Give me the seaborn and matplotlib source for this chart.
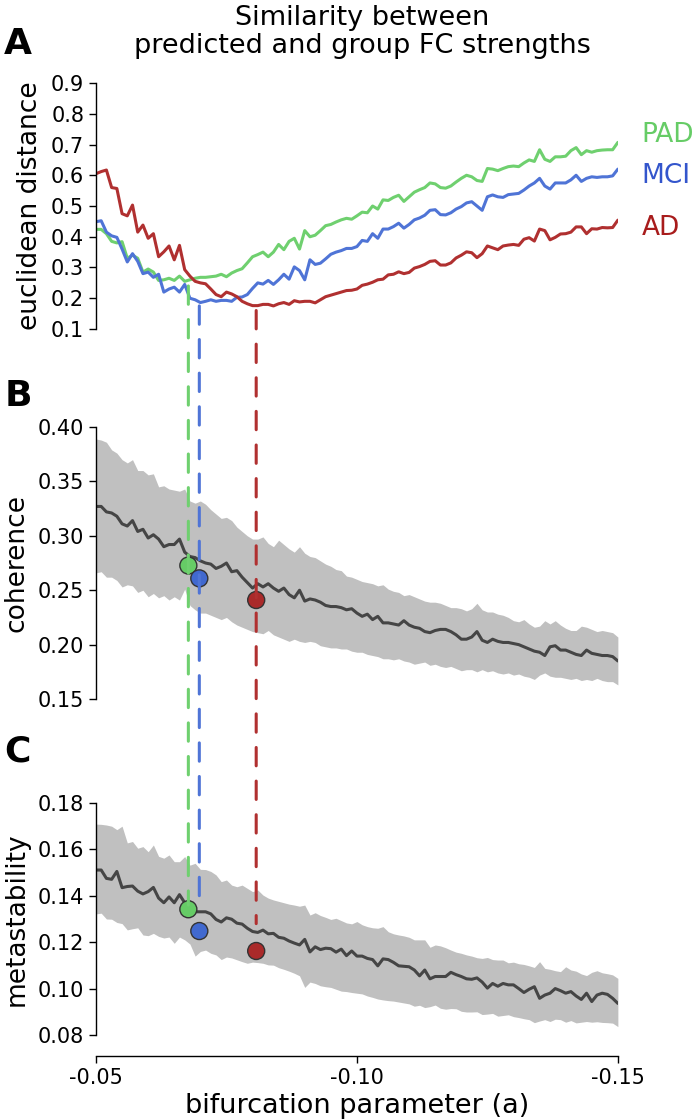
import matplotlib
matplotlib.use("Agg")
import matplotlib.pyplot as plt
from matplotlib.patches import ConnectionPatch
import seaborn as sns

# bifurcation parameter sweep (step 0.001)
a_vals = [-0.050, -0.051, -0.052, -0.053, -0.054, -0.055, -0.056, -0.057, -0.058, -0.059,
          -0.060, -0.061, -0.062, -0.063, -0.064, -0.065, -0.066, -0.067, -0.068, -0.069,
          -0.070, -0.071, -0.072, -0.073, -0.074, -0.075, -0.076, -0.077, -0.078, -0.079,
          -0.080, -0.081, -0.082, -0.083, -0.084, -0.085, -0.086, -0.087, -0.088, -0.089,
          -0.090, -0.091, -0.092, -0.093, -0.094, -0.095, -0.096, -0.097, -0.098, -0.099,
          -0.100, -0.101, -0.102, -0.103, -0.104, -0.105, -0.106, -0.107, -0.108, -0.109,
          -0.110, -0.111, -0.112, -0.113, -0.114, -0.115, -0.116, -0.117, -0.118, -0.119,
          -0.120, -0.121, -0.122, -0.123, -0.124, -0.125, -0.126, -0.127, -0.128, -0.129,
          -0.130, -0.131, -0.132, -0.133, -0.134, -0.135, -0.136, -0.137, -0.138, -0.139,
          -0.140, -0.141, -0.142, -0.143, -0.144, -0.145, -0.146, -0.147, -0.148, -0.149,
          -0.150]

# A: euclidean distance between predicted and group FC strengths
dist_pad = [0.424, 0.424, 0.41, 0.385, 0.38, 0.384, 0.33, 0.34, 0.33, 0.285,
            0.295, 0.285, 0.258, 0.26, 0.265, 0.258, 0.272, 0.255, 0.26, 0.265,
            0.268, 0.268, 0.27, 0.272, 0.278, 0.27, 0.282, 0.29, 0.296, 0.315,
            0.335, 0.342, 0.35, 0.335, 0.35, 0.375, 0.358, 0.385, 0.395, 0.36,
            0.42, 0.40, 0.405, 0.42, 0.436, 0.44, 0.448, 0.455, 0.46, 0.457,
            0.468, 0.48, 0.478, 0.50, 0.49, 0.52, 0.518, 0.528, 0.535, 0.515,
            0.53, 0.545, 0.553, 0.56, 0.575, 0.572, 0.56, 0.558, 0.565, 0.578,
            0.59, 0.60, 0.595, 0.583, 0.58, 0.622, 0.62, 0.615, 0.622, 0.628,
            0.63, 0.628, 0.64, 0.65, 0.645, 0.683, 0.652, 0.645, 0.66, 0.66,
            0.662, 0.68, 0.69, 0.667, 0.68, 0.675, 0.68, 0.682, 0.683, 0.683,
            0.707]
dist_mci = [0.449, 0.452, 0.415, 0.403, 0.398, 0.36, 0.318, 0.345, 0.32, 0.28,
            0.285, 0.268, 0.278, 0.22, 0.23, 0.236, 0.22, 0.245, 0.20, 0.195,
            0.186, 0.19, 0.195, 0.19, 0.193, 0.193, 0.19, 0.203, 0.204, 0.212,
            0.232, 0.25, 0.246, 0.258, 0.245, 0.26, 0.278, 0.262, 0.302, 0.29,
            0.26, 0.325, 0.31, 0.314, 0.328, 0.343, 0.35, 0.355, 0.362, 0.362,
            0.368, 0.388, 0.385, 0.41, 0.395, 0.425, 0.425, 0.433, 0.444, 0.428,
            0.44, 0.455, 0.461, 0.47, 0.486, 0.488, 0.472, 0.471, 0.478, 0.49,
            0.498, 0.51, 0.514, 0.50, 0.486, 0.53, 0.536, 0.53, 0.528, 0.537,
            0.539, 0.541, 0.552, 0.565, 0.575, 0.59, 0.565, 0.555, 0.575, 0.575,
            0.575, 0.585, 0.60, 0.58, 0.59, 0.595, 0.593, 0.595, 0.595, 0.598,
            0.62]
dist_ad = [0.605, 0.612, 0.617, 0.56, 0.557, 0.475, 0.468, 0.503, 0.415, 0.438,
           0.395, 0.41, 0.335, 0.351, 0.37, 0.325, 0.372, 0.293, 0.272, 0.255,
           0.25, 0.247, 0.23, 0.212, 0.205, 0.22, 0.214, 0.205, 0.19, 0.182,
           0.176, 0.176, 0.18, 0.18, 0.175, 0.182, 0.186, 0.18, 0.192, 0.188,
           0.19, 0.19, 0.185, 0.195, 0.205, 0.21, 0.215, 0.22, 0.225, 0.226,
           0.23, 0.242, 0.246, 0.252, 0.26, 0.262, 0.276, 0.278, 0.286, 0.28,
           0.284, 0.298, 0.303, 0.31, 0.32, 0.322, 0.308, 0.308, 0.315, 0.331,
           0.34, 0.351, 0.348, 0.332, 0.345, 0.37, 0.364, 0.358, 0.37, 0.373,
           0.375, 0.372, 0.392, 0.397, 0.386, 0.425, 0.42, 0.39, 0.398, 0.409,
           0.41, 0.415, 0.432, 0.432, 0.41, 0.426, 0.425, 0.43, 0.429, 0.43,
           0.454]

# B: coherence, mean and spread
coh_mean = [0.327, 0.327, 0.322, 0.321, 0.318, 0.311, 0.309, 0.314, 0.304, 0.306,
            0.298, 0.301, 0.297, 0.29, 0.292, 0.292, 0.297, 0.285, 0.281, 0.28,
            0.277, 0.275, 0.274, 0.27, 0.272, 0.275, 0.267, 0.268, 0.262, 0.257,
            0.252, 0.256, 0.253, 0.256, 0.252, 0.249, 0.252, 0.246, 0.243, 0.25,
            0.24, 0.242, 0.241, 0.239, 0.236, 0.235, 0.235, 0.234, 0.232, 0.233,
            0.229, 0.226, 0.228, 0.223, 0.226, 0.22, 0.22, 0.219, 0.218, 0.222,
            0.218, 0.216, 0.215, 0.212, 0.211, 0.213, 0.214, 0.214, 0.212, 0.209,
            0.205, 0.205, 0.207, 0.212, 0.204, 0.202, 0.205, 0.203, 0.202, 0.202,
            0.201, 0.20, 0.198, 0.196, 0.194, 0.193, 0.19, 0.198, 0.199, 0.195,
            0.195, 0.193, 0.191, 0.19, 0.195, 0.192, 0.191, 0.19, 0.19, 0.189,
            0.185]
coh_upper = [0.389, 0.388, 0.386, 0.379, 0.376, 0.37, 0.367, 0.37, 0.36, 0.36,
             0.356, 0.357, 0.345, 0.346, 0.343, 0.342, 0.341, 0.343, 0.332, 0.33,
             0.332, 0.329, 0.324, 0.32, 0.316, 0.317, 0.314, 0.308, 0.304, 0.30,
             0.297, 0.297, 0.299, 0.293, 0.29, 0.296, 0.292, 0.288, 0.285, 0.29,
             0.284, 0.281, 0.28, 0.277, 0.274, 0.272, 0.269, 0.268, 0.263, 0.262,
             0.26, 0.258, 0.257, 0.256, 0.254, 0.255, 0.251, 0.249, 0.248, 0.245,
             0.246, 0.244, 0.242, 0.24, 0.239, 0.239, 0.238, 0.236, 0.234, 0.234,
             0.233, 0.231, 0.233, 0.238, 0.232, 0.23, 0.23, 0.228, 0.227, 0.225,
             0.222, 0.221, 0.223, 0.219, 0.216, 0.217, 0.222, 0.219, 0.222, 0.218,
             0.215, 0.213, 0.213, 0.217, 0.216, 0.214, 0.212, 0.213, 0.212, 0.211,
             0.207]
coh_lower = [0.266, 0.267, 0.262, 0.262, 0.259, 0.253, 0.255, 0.254, 0.248, 0.25,
             0.244, 0.247, 0.243, 0.245, 0.241, 0.244, 0.241, 0.251, 0.236, 0.232,
             0.229, 0.229, 0.227, 0.225, 0.223, 0.225, 0.221, 0.218, 0.216, 0.214,
             0.212, 0.211, 0.21, 0.213, 0.209, 0.207, 0.205, 0.203, 0.205, 0.203,
             0.202, 0.203, 0.202, 0.199, 0.198, 0.197, 0.197, 0.196, 0.196, 0.194,
             0.193, 0.193, 0.191, 0.19, 0.189, 0.187, 0.187, 0.186, 0.187, 0.185,
             0.184, 0.182, 0.183, 0.184, 0.181, 0.182, 0.18, 0.179, 0.18, 0.178,
             0.176, 0.177, 0.177, 0.175, 0.177, 0.175, 0.176, 0.174, 0.173, 0.174,
             0.172, 0.173, 0.171, 0.17, 0.168, 0.172, 0.174, 0.171, 0.17, 0.17,
             0.169, 0.168, 0.169, 0.167, 0.168, 0.167, 0.169, 0.167, 0.166, 0.166,
             0.163]

# C: metastability, mean and spread
meta_mean = [0.1511, 0.1511, 0.1475, 0.1471, 0.1505, 0.1435, 0.144, 0.1442, 0.142, 0.1408,
             0.1418, 0.1436, 0.139, 0.137, 0.1395, 0.137, 0.1405, 0.137, 0.1352, 0.1331,
             0.1331, 0.1331, 0.1322, 0.1298, 0.1287, 0.1305, 0.1299, 0.1282, 0.1278, 0.126,
             0.1246, 0.1242, 0.1252, 0.1236, 0.1238, 0.1221, 0.1217, 0.1205, 0.1196, 0.1188,
             0.1212, 0.1158, 0.118, 0.1168, 0.1174, 0.1172, 0.1157, 0.117, 0.1142, 0.1162,
             0.114, 0.114, 0.113, 0.1125, 0.1098, 0.1128, 0.1125, 0.1113, 0.1098, 0.1096,
             0.1094, 0.108, 0.1055, 0.108, 0.1042, 0.1052, 0.1052, 0.1052, 0.107, 0.106,
             0.1052, 0.1042, 0.104, 0.1046, 0.1028, 0.1002, 0.1022, 0.101, 0.1022, 0.1016,
             0.1016, 0.100, 0.0983, 0.0997, 0.1008, 0.0958, 0.0972, 0.098, 0.100, 0.0991,
             0.098, 0.0987, 0.0968, 0.0953, 0.098, 0.0944, 0.0972, 0.098, 0.0975, 0.0958,
             0.0936]
meta_upper = [0.1709, 0.1708, 0.1705, 0.170, 0.1685, 0.170, 0.1628, 0.1634, 0.1605, 0.1612,
              0.159, 0.1619, 0.157, 0.1562, 0.1576, 0.1547, 0.1547, 0.1569, 0.1532, 0.154,
              0.1514, 0.1513, 0.1505, 0.149, 0.1461, 0.1468, 0.1446, 0.1439, 0.1446, 0.1432,
              0.1418, 0.1425, 0.1403, 0.139, 0.1382, 0.1376, 0.137, 0.1364, 0.136, 0.1355,
              0.136, 0.1317, 0.1327, 0.1315, 0.1307, 0.1298, 0.1303, 0.1293, 0.1283, 0.1279,
              0.1289, 0.1275, 0.1267, 0.1262, 0.126, 0.1267, 0.1245, 0.1236, 0.1231, 0.1227,
              0.1221, 0.121, 0.121, 0.121, 0.1178, 0.1188, 0.1184, 0.1176, 0.1166, 0.1157,
              0.1152, 0.1145, 0.114, 0.1133, 0.113, 0.1134, 0.1125, 0.1123, 0.1123, 0.1111,
              0.1114, 0.1107, 0.1104, 0.1098, 0.1091, 0.1116, 0.1087, 0.1083, 0.1077, 0.1073,
              0.1094, 0.108, 0.1075, 0.1063, 0.1056, 0.107, 0.1077, 0.1068, 0.1064, 0.1059,
              0.1044]
meta_lower = [0.1322, 0.1325, 0.130, 0.1299, 0.1285, 0.128, 0.1253, 0.1258, 0.1262, 0.1231,
              0.1228, 0.1238, 0.1225, 0.1218, 0.1222, 0.1195, 0.1222, 0.121, 0.1192, 0.114,
              0.116, 0.1166, 0.1152, 0.1145, 0.1125, 0.1136, 0.1132, 0.1124, 0.1116, 0.1109,
              0.1114, 0.1112, 0.1109, 0.1102, 0.1101, 0.109, 0.1083, 0.1075, 0.1066, 0.1055,
              0.1005, 0.1028, 0.1022, 0.1012, 0.1008, 0.1005, 0.0997, 0.0989, 0.0987, 0.0983,
              0.098, 0.0977, 0.0968, 0.0962, 0.0955, 0.0951, 0.0948, 0.0946, 0.0942, 0.0938,
              0.0934, 0.0924, 0.0928, 0.0918, 0.0922, 0.0929, 0.0915, 0.0911, 0.0914, 0.0913,
              0.0902, 0.0899, 0.0899, 0.090, 0.0888, 0.089, 0.0893, 0.0881, 0.0884, 0.0887,
              0.0879, 0.0875, 0.087, 0.0866, 0.0853, 0.086, 0.0866, 0.0858, 0.0868, 0.0866,
              0.0855, 0.0862, 0.0852, 0.0855, 0.0858, 0.0855, 0.0857, 0.0854, 0.0853, 0.0851,
              0.0836]

# best fit per group
groups = ["PAD", "MCI", "AD"]
best_a = [-0.0677, -0.0698, -0.0807]
best_coh = [0.2727, 0.2609, 0.241]
best_meta = [0.1342, 0.1248, 0.1162]
dash_top = [0.24, 0.175, 0.16]
dash_bottom = [0.136, 0.1353, 0.128]
label_y = [0.731, 0.598, 0.428]

line_colors = ["#6fd06f", "#4f74d6", "#b03030"]
text_colors = ["#66cc66", "#3355cc", "#a81c1c"]
dot_colors = ["#66cc66", "#4169cf", "#aa2a2a"]

sns.set_style("ticks")
plt.rcParams["font.family"] = ["DejaVu Sans"]
plt.rcParams["text.color"] = "black"
plt.rcParams["axes.labelcolor"] = "black"

fig = plt.figure(figsize=(6.94, 11.19), dpi=100)
axA = fig.add_axes([0.1383, 0.706, 0.752, 0.2198])
axB = fig.add_axes([0.1383, 0.3753, 0.752, 0.2431])
axC = fig.add_axes([0.1383, 0.0751, 0.752, 0.2073])

# panel A
for d, c in zip([dist_pad, dist_mci, dist_ad], line_colors):
    sns.lineplot(x=a_vals, y=d, color=c, lw=2.2, ax=axA, sort=False)
for g, y, c in zip(groups, label_y, text_colors):
    axA.text(-0.1545, y, g, color=c, fontsize=19, ha="left", va="center", clip_on=False)
axA.set_ylim(0.1, 0.9)
axA.set_yticks([0.1, 0.2, 0.3, 0.4, 0.5, 0.6, 0.7, 0.8, 0.9])
axA.set_yticklabels(["0.1", "0.2", "0.3", "0.4", "0.5", "0.6", "0.7", "0.8", "0.9"])
axA.set_ylabel("euclidean distance", fontsize=19, labelpad=6)

# panel B
axB.fill_between(a_vals, coh_lower, coh_upper, color="#c0c0c0", lw=0)
sns.lineplot(x=a_vals, y=coh_mean, color="#454545", lw=2.2, ax=axB, sort=False)
axB.set_ylim(0.15, 0.40)
axB.set_yticks([0.15, 0.20, 0.25, 0.30, 0.35, 0.40])
axB.set_yticklabels(["0.15", "0.20", "0.25", "0.30", "0.35", "0.40"])
axB.set_ylabel("coherence", fontsize=19, labelpad=6)

# panel C
axC.fill_between(a_vals, meta_lower, meta_upper, color="#c0c0c0", lw=0)
sns.lineplot(x=a_vals, y=meta_mean, color="#454545", lw=2.2, ax=axC, sort=False)
axC.set_ylim(0.08, 0.18)
axC.set_yticks([0.08, 0.10, 0.12, 0.14, 0.16, 0.18])
axC.set_yticklabels(["0.08", "0.10", "0.12", "0.14", "0.16", "0.18"])
axC.set_ylabel("metastability", fontsize=19, labelpad=6)
axC.set_xticks([-0.05, -0.10, -0.15])
axC.set_xticklabels(["-0.05", "-0.10", "-0.15"])
axC.set_xlabel("bifurcation parameter (a)", fontsize=19.5, labelpad=4)

for ax in [axA, axB, axC]:
    ax.set_xlim(-0.05, -0.15)
    ax.tick_params(labelsize=15, length=5, width=1, colors="black", direction="out")
    for s in ["top", "right"]:
        ax.spines[s].set_visible(False)
    ax.spines["left"].set_color("black")
    ax.spines["left"].set_linewidth(1)
for ax in [axA, axB]:
    ax.spines["bottom"].set_visible(False)
    ax.set_xticks([])
axC.spines["bottom"].set_position(("outward", 15))
axC.spines["bottom"].set_color("black")
axC.spines["bottom"].set_linewidth(1)

# dashed markers running from panel A down to panel C
for i in range(3):
    con = ConnectionPatch(xyA=(best_a[i], dash_top[i]), coordsA=axA.transData,
                          xyB=(best_a[i], dash_bottom[i]), coordsB=axC.transData,
                          color=line_colors[i], lw=2.2, linestyle=(0, (6, 5)),
                          zorder=3)
    fig.add_artist(con)

sns.scatterplot(x=best_a, y=best_coh, hue=groups, palette=dot_colors, s=150,
                edgecolor="#333333", linewidth=1, ax=axB, legend=False, zorder=5)
sns.scatterplot(x=best_a, y=best_meta, hue=groups, palette=dot_colors, s=150,
                edgecolor="#333333", linewidth=1, ax=axC, legend=False, zorder=5)
for ax in [axB, axC]:
    for coll in ax.collections[1:]:
        coll.set_zorder(10)
        coll.set_clip_on(False)

fig.text(0.522, 0.9714, "Similarity between\npredicted and group FC strengths",
         ha="center", va="center", fontsize=19.5, linespacing=1.1)
fig.text(0.006, 0.961, "A", fontsize=26, fontweight="bold", va="center")
fig.text(0.006, 0.646, "B", fontsize=26, fontweight="bold", va="center")
fig.text(0.006, 0.328, "C", fontsize=26, fontweight="bold", va="center")

fig.savefig("out.png", dpi=100)
